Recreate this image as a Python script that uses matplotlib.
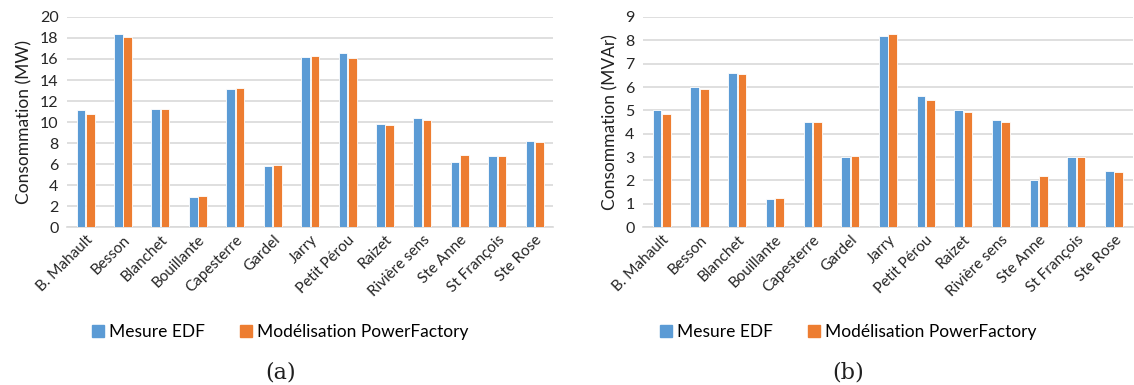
import numpy as np
import matplotlib
matplotlib.use('Agg')
import matplotlib.pyplot as plt
from matplotlib.patches import Patch

STATIONS = ["B. Mahault", "Besson", "Blanchet", "Bouillante", "Capesterre", "Gardel",
            "Jarry", "Petit Pérou", "Raizet", "Rivière sens", "Ste Anne", "St François",
            "Ste Rose"]

# (a) active power, MW
p_edf = [11.1, 18.4, 11.2, 2.9, 13.1, 5.8, 16.2, 16.6, 9.8, 10.4, 6.2, 6.8, 8.2]
p_pf = [10.8, 18.1, 11.2, 3.0, 13.2, 5.9, 16.3, 16.1, 9.7, 10.2, 6.9, 6.8, 8.1]

# (b) reactive power, MVAr
q_edf = [5.0, 6.0, 6.6, 1.2, 4.5, 3.0, 8.2, 5.6, 5.0, 4.6, 2.0, 3.0, 2.4]
q_pf = [4.85, 5.9, 6.55, 1.25, 4.5, 3.05, 8.25, 5.45, 4.95, 4.5, 2.2, 3.0, 2.35]

SERIES = ["Mesure EDF", "Modélisation PowerFactory"]
BLUE = '#5B9BD5'
ORANGE = '#ED7D31'

plt.rcParams['font.family'] = ['Lato', 'DejaVu Sans']


def draw_panel(ax, edf, pf, ylim, ystep, ylabel):
    x = np.arange(len(STATIONS))
    w = 0.23
    ax.bar(x - w / 2 - 0.01, edf, w, color=BLUE, edgecolor='white', linewidth=0.6, zorder=3)
    ax.bar(x + w / 2 + 0.01, pf, w, color=ORANGE, edgecolor='white', linewidth=0.6, zorder=3)
    ax.set_xlim(-0.5, len(STATIONS) - 0.5)
    ax.set_ylim(0, ylim)
    ax.set_yticks(np.arange(0, ylim + 0.01, ystep))
    ax.set_xticks(x)
    ax.set_xticklabels(STATIONS, rotation=45, ha='right', rotation_mode='anchor', fontsize=11,
                       color='#262626')
    ax.tick_params(axis='y', labelsize=11.5, length=0, colors='#262626', pad=6)
    ax.tick_params(axis='x', length=0, pad=4)
    ax.grid(axis='y', color='#d9d9d9', linewidth=1.2, zorder=0)
    for s in ['top', 'right', 'left']:
        ax.spines[s].set_visible(False)
    ax.spines['bottom'].set_color('#d9d9d9')
    ax.spines['bottom'].set_linewidth(1.2)
    ax.set_ylabel(ylabel, fontsize=12.5, color='#202020', labelpad=5)


fig = plt.figure(figsize=(11.34, 3.85), dpi=100)
ax1 = fig.add_axes([0.059, 0.41, 0.429, 0.546])
ax2 = fig.add_axes([0.567, 0.41, 0.432, 0.546])

draw_panel(ax1, p_edf, p_pf, 20, 2, "Consommation (MW)")
draw_panel(ax2, q_edf, q_pf, 9, 1, "Consommation (MVAr)")

handles = [Patch(color=BLUE), Patch(color=ORANGE)]
for cx, cap in [(0.247, "(a)"), (0.748, "(b)")]:
    fig.legend(handles, SERIES, loc='center', bbox_to_anchor=(cx, 0.138), ncol=2, frameon=False,
               fontsize=12.5, handlelength=0.7, handleheight=0.7, handletextpad=0.3,
               columnspacing=2.0)
    fig.text(cx, 0.032, cap, ha='center', va='center', fontsize=16,
             family='DejaVu Serif', color='#202020')

fig.savefig('out.png', dpi=100)
